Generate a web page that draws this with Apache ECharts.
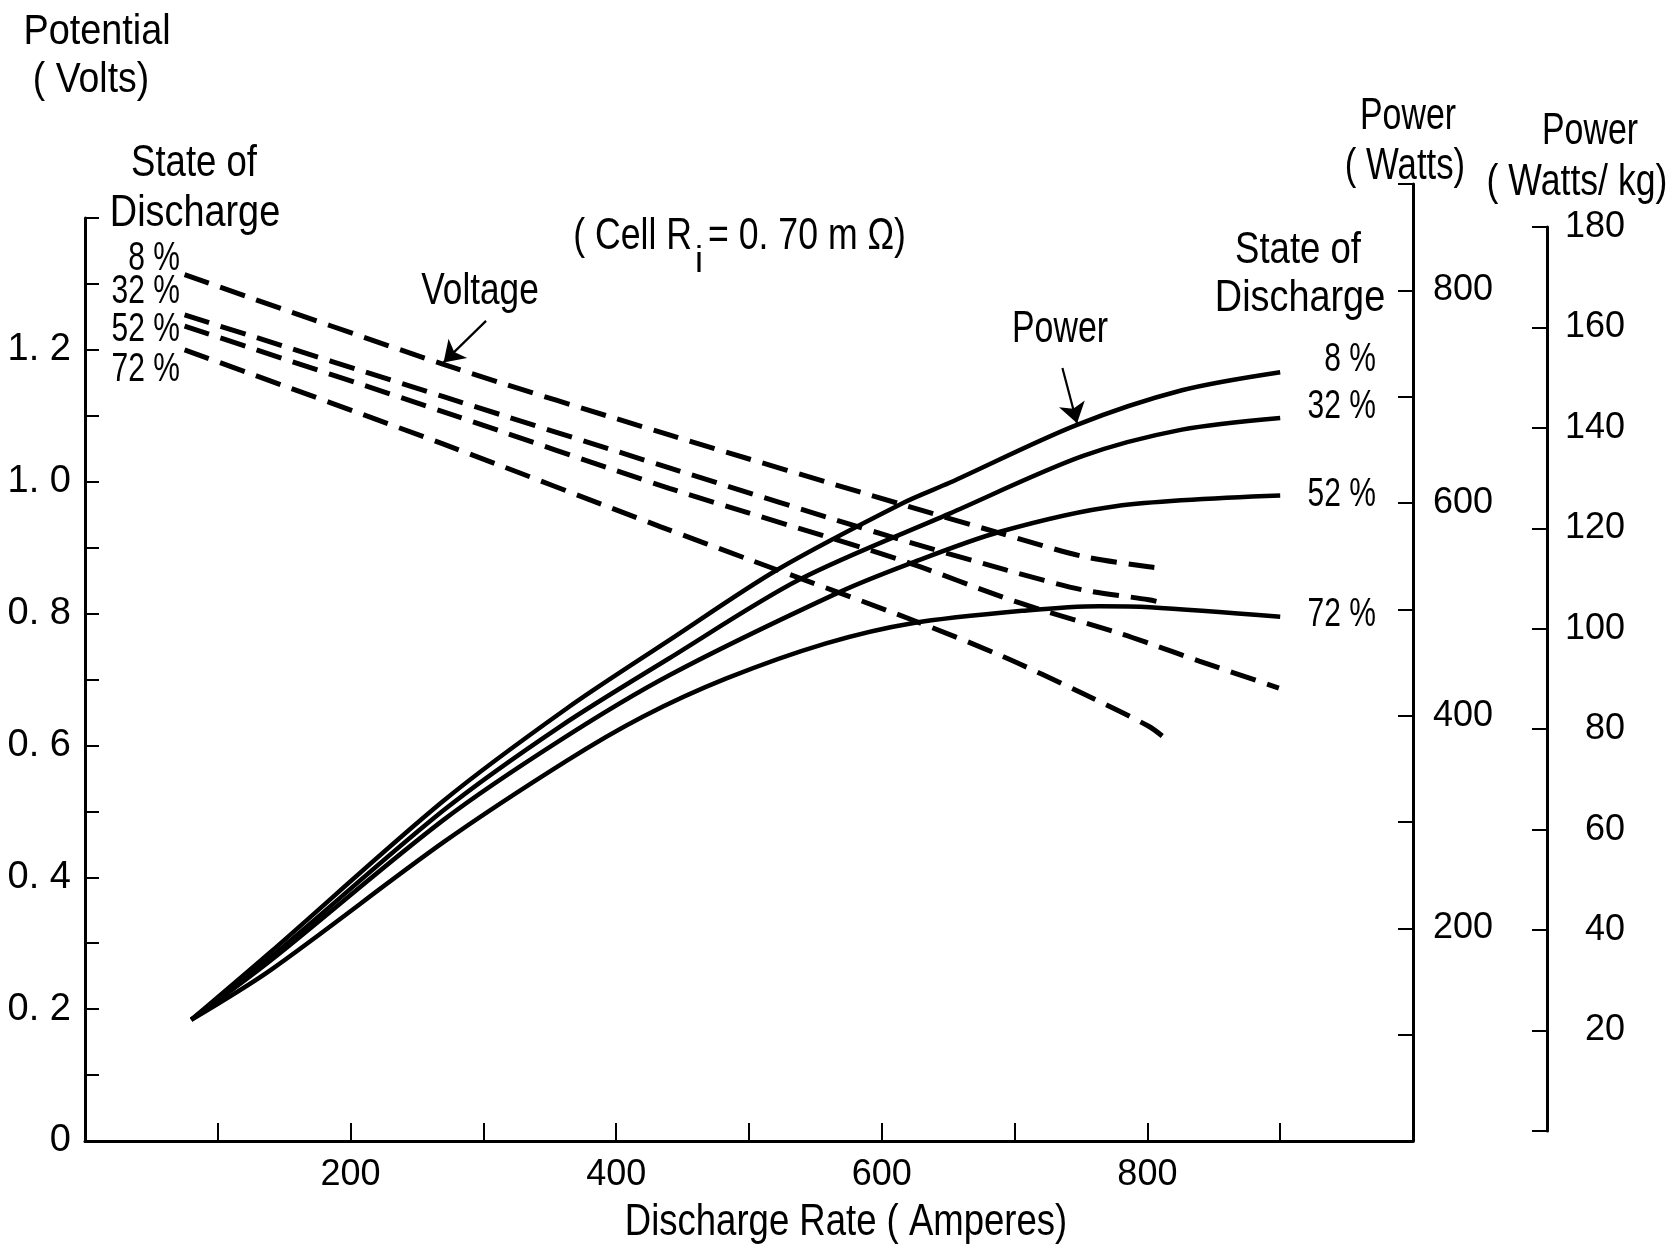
<!DOCTYPE html>
<html>
<head>
<meta charset="utf-8">
<script src="https://cdn.jsdelivr.net/npm/echarts@6/dist/echarts.min.js"></script>
<style>
html,body{margin:0;padding:0;background:#fff;}
#chart{width:1676px;height:1247px;}
</style>
</head>
<body>
<div id="chart"></div>
<script>
// ---------- data ----------
// Voltage (V) vs discharge rate (A), dashed curves
const volt8X  = [75, 270, 440, 616, 689, 751, 801, 814];
const volt8Y  = [1.314, 1.178, 1.071, 0.965, 0.922, 0.887, 0.871, 0.868];
const volt32X = [75, 270, 440, 606, 694, 751, 801, 812];
const volt32Y = [1.253, 1.129, 1.021, 0.917, 0.866, 0.836, 0.821, 0.816];
const volt52X = [75, 270, 440, 613, 701, 779, 801, 839, 899];
const volt52Y = [1.236, 1.106, 0.990, 0.882, 0.818, 0.770, 0.755, 0.728, 0.687];
const volt72X = [75, 270, 433, 500, 626, 691, 751, 801, 815];
const volt72Y = [1.200, 1.057, 0.932, 0.882, 0.788, 0.735, 0.679, 0.629, 0.608];

// Power (W) vs discharge rate (A), solid curves
const pow8X  = [80, 140, 270, 363, 440, 521, 616, 651, 746, 826, 900];
const pow8Y  = [114, 178, 320, 407, 471, 537, 600, 619, 673, 706, 723];
const pow32X = [80, 140, 270, 358, 440, 538, 651, 751, 826, 900];
const pow32Y = [114, 173, 311, 390, 454, 528, 590, 644, 669, 680];
const pow52X = [80, 140, 270, 358, 440, 566, 621, 689, 776, 900];
const pow52Y = [114, 170, 302, 377, 438, 515, 543, 573, 597, 607];
const pow72X = [80, 140, 270, 362, 420, 483, 558, 623, 709, 764, 802, 900];
const pow72Y = [114, 161, 281, 357, 399, 435, 468, 487, 499, 503, 502, 493];

// Tick labels
const xLabelValues    = [200, 400, 600, 800];
const voltLabelValues = [0, 0.2, 0.4, 0.6, 0.8, 1.0, 1.2];
const wattLabelValues = [200, 400, 600, 800];
const wkgLabelValues  = [20, 40, 60, 80, 100, 120, 140, 160, 180];

// Annotation texts
const sodLabels = ['8 %', '32 %', '52 %', '72 %'];

// ---------- helpers ----------
const pairs = (xs, ys) => xs.map((x, i) => [x, ys[i]]);
const FONT = "'Liberation Sans',Arial,Helvetica,sans-serif";
const near = (v, arr) => arr.some(a => Math.abs(a - v) < 1e-6);

const dashed = {type: [26, 12], width: 5, color: '#000', cap: 'butt'};
const solid  = {type: 'solid', width: 4.5, color: '#000'};

function voltSeries(name, xs, ys, extra) {
  return Object.assign({
    name, type: 'line', xAxisIndex: 0, yAxisIndex: 0,
    data: pairs(xs, ys), smooth: 0.3,
    showSymbol: false, symbol: 'none', lineStyle: dashed
  }, extra || {});
}
function powSeries(name, xs, ys, extra) {
  return Object.assign({
    name, type: 'line', xAxisIndex: 1, yAxisIndex: 1,
    data: pairs(xs, ys), smooth: 0.3,
    showSymbol: false, symbol: 'none', lineStyle: solid
  }, extra || {});
}
function txt(text, x, y, size, sx, align) {
  const a = align || 'center';
  return {
    type: 'text', x, y, scaleX: sx, scaleY: 1, silent: true,
    style: {
      text, fill: '#000', font: size + 'px ' + FONT,
      textAlign: a, textVerticalAlign: 'middle',
      align: a, verticalAlign: 'middle'
    }
  };
}

const arrowLine = (from, to) => ({
  silent: true, animation: false,
  symbol: ['none', 'arrow'], symbolSize: 20,
  lineStyle: {type: 'solid', width: 2.2, color: '#000'},
  itemStyle: {color: '#000'},
  label: {show: false},
  emphasis: {disabled: true},
  data: [[{coord: from}, {coord: to}]]
});

const axisText = (size) => ({color: '#000', fontFamily: FONT, fontSize: size});
const yLine = {show: true, onZero: false, lineStyle: {color: '#000', width: 3}};

const option = {
  animation: false,
  backgroundColor: '#fff',
  grid: [
    {left: 85, right: 263, top: 218, bottom: 106, containLabel: false, outerBoundsMode: 'none'},   // volts
    {left: 85, right: 263, top: 184, bottom: 106, containLabel: false, outerBoundsMode: 'none'},   // watts
    {left: 85, right: 129, top: 227, bottom: 116, containLabel: false, outerBoundsMode: 'none'}    // watts/kg
  ],
  xAxis: [
    {
      gridIndex: 0, type: 'value', min: 0, max: 1000, interval: 100,
      axisLine: {show: true, onZero: false, lineStyle: {color: '#000', width: 3}},
      axisTick: {show: true, inside: true, length: 18, lineStyle: {color: '#000', width: 2}},
      axisLabel: Object.assign(axisText(36), {
        margin: 16,
        formatter: v => near(v, xLabelValues) ? String(v) : ''
      }),
      splitLine: {show: false}
    },
    {gridIndex: 1, type: 'value', min: 0, max: 1000, show: false},
    {gridIndex: 2, type: 'value', min: 0, max: 1000, show: false}
  ],
  yAxis: [
    {
      gridIndex: 0, type: 'value', position: 'left', min: 0, max: 1.4, interval: 0.1,
      axisLine: yLine,
      axisTick: {show: true, inside: true, length: 14, lineStyle: {color: '#000', width: 2}},
      axisLabel: Object.assign(axisText(38), {
        margin: 14,
        formatter: v => {
          if (!near(v, voltLabelValues)) return '';
          if (Math.abs(v) < 1e-6) return '0';
          return v.toFixed(1).replace('.', '. ');
        }
      }),
      splitLine: {show: false}
    },
    {
      gridIndex: 1, type: 'value', position: 'right', min: 0, max: 900, interval: 100,
      axisLine: yLine,
      axisTick: {show: true, inside: true, length: 15, lineStyle: {color: '#000', width: 2}},
      axisLabel: Object.assign(axisText(36), {
        margin: 20,
        formatter: v => near(v, wattLabelValues) ? String(v) : ''
      }),
      splitLine: {show: false}
    },
    {
      gridIndex: 2, type: 'value', position: 'right', min: 0, max: 180, interval: 20,
      axisLine: yLine,
      axisTick: {show: true, inside: true, length: 15, lineStyle: {color: '#000', width: 2}},
      axisLabel: Object.assign(axisText(36), {
        margin: 78, align: 'right',
        formatter: v => near(v, wkgLabelValues) ? String(v) : ''
      }),
      splitLine: {show: false}
    }
  ],
  series: [
    voltSeries('V 8%', volt8X, volt8Y, {markLine: arrowLine([302, 1.244], [270, 1.181])}),
    voltSeries('V 32%', volt32X, volt32Y),
    voltSeries('V 52%', volt52X, volt52Y),
    voltSeries('V 72%', volt72X, volt72Y),
    powSeries('P 8%', pow8X, pow8Y, {markLine: arrowLine([736, 727], [747, 675])}),
    powSeries('P 32%', pow32X, pow32Y),
    powSeries('P 52%', pow52X, pow52Y),
    powSeries('P 72%', pow72X, pow72Y)
  ],
  graphic: [
    txt('Potential', 97, 32, 42, 0.9),
    txt('( Volts)', 91, 80, 42, 0.89),
    txt('State of', 194, 164, 44, 0.83),
    txt('Discharge', 195, 214, 44, 0.86),
    txt(sodLabels[0], 180, 259, 40, 0.75, 'right'),
    txt(sodLabels[1], 180, 292, 40, 0.75, 'right'),
    txt(sodLabels[2], 180, 330, 40, 0.75, 'right'),
    txt(sodLabels[3], 180, 370, 40, 0.75, 'right'),
    txt('Voltage', 480, 292, 44, 0.8),
    txt('( Cell R', 692, 237, 44, 0.81, 'right'),
    txt('i', 699, 262, 36, 1),
    txt('= 0. 70 m Ω)', 708, 237, 44, 0.81, 'left'),
    txt('Power', 1060, 330, 44, 0.77),
    txt('State of', 1298, 251, 44, 0.83),
    txt('Discharge', 1300, 299, 44, 0.86),
    txt(sodLabels[0], 1376, 360, 40, 0.75, 'right'),
    txt(sodLabels[1], 1376, 407, 40, 0.75, 'right'),
    txt(sodLabels[2], 1376, 495, 40, 0.75, 'right'),
    txt(sodLabels[3], 1376, 615, 40, 0.75, 'right'),
    txt('Power', 1408, 117, 44, 0.77),
    txt('( Watts)', 1405, 167, 44, 0.79),
    txt('Power', 1590, 132, 44, 0.77),
    txt('( Watts/ kg)', 1577, 183, 44, 0.81),
    txt('Discharge Rate ( Amperes)', 846, 1223, 44, 0.83)
  ]
};

const chart = echarts.init(document.getElementById('chart'), null, {renderer: 'canvas'});
chart.setOption(option);
</script>
</body>
</html>
